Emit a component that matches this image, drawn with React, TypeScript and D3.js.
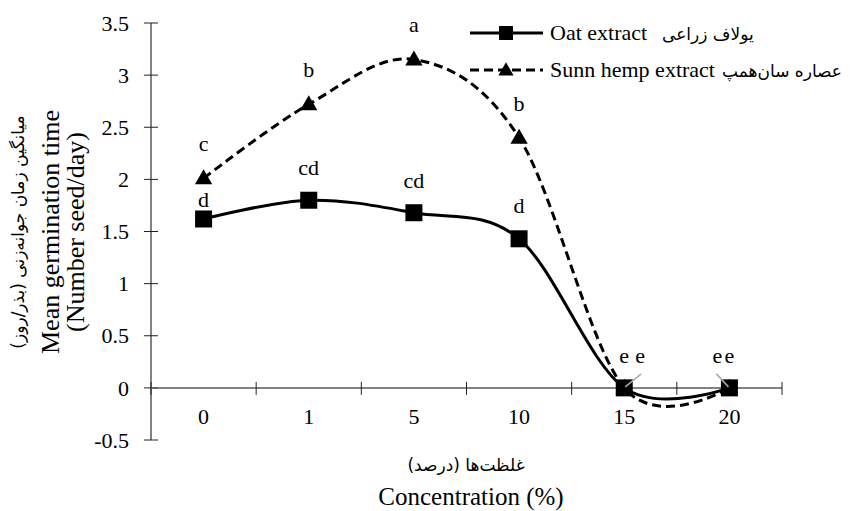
import React from "react";
import * as d3 from "d3";

const categories = ["0", "1", "5", "10", "15", "20"];
const oatValues = [1.62, 1.8, 1.68, 1.43, 0, 0];
const sunnValues = [2.01, 2.72, 3.15, 2.4, 0, 0];
const oatLetters = ["d", "cd", "cd", "d", "e", "e"];
const sunnLetters = ["c", "b", "a", "b", "e", "e"];
const yTicks = [-0.5, 0, 0.5, 1, 1.5, 2, 2.5, 3, 3.5];
const yTickLabels = ["-0.5", "0", "0.5", "1", "1.5", "2", "2.5", "3", "3.5"];

// label placement offsets (styling, not data)
const oatLabelDx = [0, 0, 0, 0, 0, 0];
const oatLabelDy = [-12, -25, -25, -26, -25, -25];
const sunnLabelDx = [0, 0, 0, 0, 16, -12];
const sunnLabelDy = [-27, -27, -27, -27, -25, -25];

const W = 853;
const H = 511;
const serif = "Liberation Serif, Times New Roman, Times, DejaVu Serif, serif";
const persianFont = "DejaVu Sans, Noto Sans, sans-serif";

export default function App() {
  const x = d3.scaleBand<string>().domain(categories).range([151, 782]).padding(0);
  const y = d3.scaleLinear().domain([-0.5, 3.5]).range([440, 23]);
  const cx = (c: string) => (x(c) as number) + x.bandwidth() / 2;

  const line = d3
    .line<number>()
    .x((_, i) => cx(categories[i]))
    .y((v) => y(v))
    .curve(d3.curveCardinal.tension(0));

  const tri = d3.symbol().type(d3.symbolTriangle).size(130)() as string;
  const sq = 17;

  const xTickPos = categories.map((c) => x(c) as number).concat([782]);
  const sf = { fontFamily: serif };
  const pf = { fontFamily: persianFont };

  return (
    <svg width={W} height={H} style={{ position: "absolute", left: 0, top: 0, background: "#fff" }}>
      {/* Y axis */}
      <line x1={151} x2={151} y1={y(3.5)} y2={y(-0.5)} stroke="#595959" strokeWidth={1.5} />
      {yTicks.map((t, i) => (
        <g key={"yt" + i}>
          <line x1={144} x2={158} y1={y(t)} y2={y(t)} stroke="#222" strokeWidth={1} />
          <text x={129} y={y(t)} dy="0.35em" textAnchor="end" style={sf} fontSize={22} fill="#000">
            {yTickLabels[i]}
          </text>
        </g>
      ))}
      {/* X axis at 0 */}
      <line x1={151} x2={782} y1={y(0)} y2={y(0)} stroke="#595959" strokeWidth={1.5} />
      {xTickPos.map((p, i) => (
        <line key={"xt" + i} x1={p} x2={p} y1={y(0) - 6} y2={y(0) + 7} stroke="#222" strokeWidth={1} />
      ))}
      {categories.map((c) => (
        <text key={"xl" + c} x={cx(c)} y={424} textAnchor="middle" style={sf} fontSize={22} fill="#000">
          {c}
        </text>
      ))}

      {/* Sunn hemp series */}
      <path d={line(sunnValues) as string} fill="none" stroke="#000" strokeWidth={3} strokeDasharray="9,5" />
      {sunnValues.map((v, i) => (
        <path key={"st" + i} d={tri} transform={`translate(${cx(categories[i])},${y(v) + 1})`} fill="#000" />
      ))}
      {/* Oat series */}
      <path d={line(oatValues) as string} fill="none" stroke="#000" strokeWidth={3} />
      {oatValues.map((v, i) => (
        <rect key={"os" + i} x={cx(categories[i]) - sq / 2} y={y(v) - sq / 2} width={sq} height={sq} fill="#000" />
      ))}

      {/* leader lines */}
      <line x1={cx("15") + 1} y1={y(0) - 1} x2={cx("15") + 17} y2={y(0) - 14} stroke="#aaa" strokeWidth={1.5} />
      <line x1={cx("20") - 1} y1={y(0) - 1} x2={cx("20") - 13} y2={y(0) - 14} stroke="#aaa" strokeWidth={1.5} />

      {/* letters */}
      {sunnLetters.map((l, i) => (
        <text key={"sl" + i} x={cx(categories[i]) + sunnLabelDx[i]} y={y(sunnValues[i]) + sunnLabelDy[i]} textAnchor="middle" style={sf} fontSize={22}>
          {l}
        </text>
      ))}
      {oatLetters.map((l, i) => (
        <text key={"ol" + i} x={cx(categories[i]) + oatLabelDx[i]} y={y(oatValues[i]) + oatLabelDy[i]} textAnchor="middle" style={sf} fontSize={22}>
          {l}
        </text>
      ))}

      {/* Legend */}
      <g>
        <line x1={470} x2={543} y1={33} y2={33} stroke="#000" strokeWidth={3} />
        <rect x={506 - 7} y={33 - 7} width={14} height={14} fill="#000" />
        <text x={550} y={40} style={sf} fontSize={22}>
          Oat extract
        </text>
        <text x={662} y={40} style={pf} fontSize={17}>
          {"\u202Bیولاف زراعی\u202C"}
        </text>
        <line x1={470} x2={543} y1={70} y2={70} stroke="#000" strokeWidth={3} strokeDasharray="9,5" />
        <path d={d3.symbol().type(d3.symbolTriangle).size(100)() as string} transform="translate(506,71)" fill="#000" />
        <text x={550} y={77} style={sf} fontSize={22}>
          Sunn hemp extract
        </text>
        <text x={722} y={77} style={pf} fontSize={17}>
          {"\u202Bعصاره سان\u200Cهمپ\u202C"}
        </text>
      </g>

      {/* Y title */}
      <text transform="translate(24,232) rotate(-90)" textAnchor="middle" style={pf} fontSize={17}>
        {"\u202Bمیانگین زمان جوانه\u200Cزنی (بذر/روز)\u202C"}
      </text>
      <text transform="translate(59,232) rotate(-90)" textAnchor="middle" style={sf} fontSize={26}>
        Mean germination time
      </text>
      <text transform="translate(84,232) rotate(-90)" textAnchor="middle" style={sf} fontSize={26}>
        (Number seed/day)
      </text>

      {/* X title */}
      <text x={466} y={471} textAnchor="middle" style={pf} fontSize={17}>
        {"\u202Bغلظت\u200Cها (درصد)\u202C"}
      </text>
      <text x={471} y={505} textAnchor="middle" style={sf} fontSize={25}>
        Concentration (%)
      </text>
    </svg>
  );
}
